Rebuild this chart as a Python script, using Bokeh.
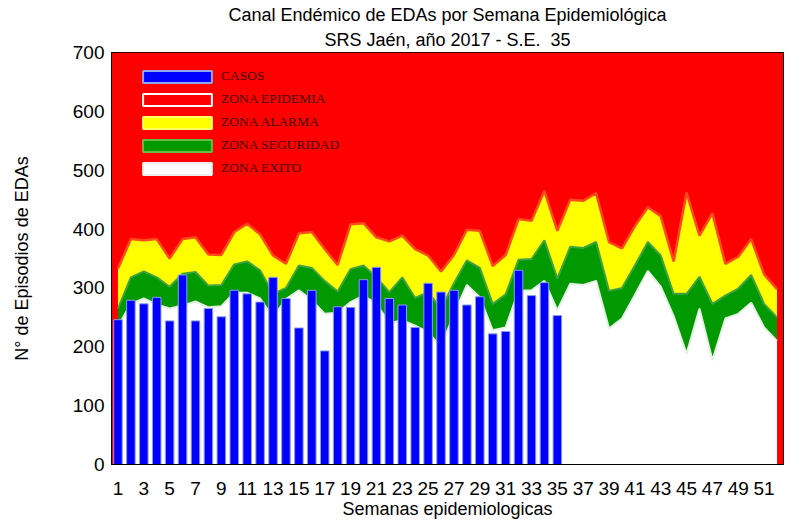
from bokeh.plotting import figure
from bokeh.models import Range1d, FixedTicker, Legend, LegendItem, ColumnDataSource, Title
from bokeh.embed import file_html
from bokeh.resources import INLINE

# ---- data ----
semanas = list(range(1, 53))
semanas_casos = list(range(1, 36))
casos = [246, 279, 273, 284, 244, 322, 244, 265, 251, 296,
         290, 276, 318, 282, 232, 296, 193, 268, 267, 314,
         335, 282, 271, 233, 308, 293, 296, 271, 285, 222,
         226, 330, 287, 309, 253]
zona_exito = [235, 273, 282, 272, 265, 270, 277, 267, 269, 292,
              292, 282, 250, 281, 296, 279, 256, 258, 276, 287,
              273, 240, 245, 236, 225, 199, 256, 305, 284, 228,
              233, 295, 296, 312, 262, 307, 305, 312, 231, 248,
              288, 329, 302, 252, 188, 265, 177, 248, 256, 275,
              233, 210]
zona_seguridad = [265, 318, 328, 318, 302, 324, 327, 304, 305, 340,
                  345, 330, 290, 300, 338, 334, 312, 294, 332, 338,
                  318, 293, 318, 283, 293, 265, 308, 347, 334, 273,
                  289, 348, 349, 381, 316, 370, 368, 378, 295, 300,
                  338, 378, 355, 290, 290, 319, 273, 287, 299, 322,
                  273, 250]
zona_alarma = [333, 383, 381, 383, 350, 383, 386, 357, 356, 395,
               409, 391, 355, 341, 393, 395, 366, 339, 408, 410,
               386, 379, 389, 366, 355, 328, 356, 399, 397, 337,
               356, 417, 414, 465, 397, 450, 448, 461, 378, 367,
               405, 437, 422, 345, 462, 389, 427, 341, 353, 383,
               323, 298]
techo = [700] * 52
ticks_x = list(range(1, 52, 2))
ticks_y = list(range(0, 701, 100))
titulo_1 = "Canal Endémico de EDAs por Semana Epidemiológica"
titulo_2 = "SRS Jaén, año 2017 - S.E.\u00a0\u00a035"

FONT = "Liberation Sans"

p = figure(width=784, height=521, output_backend="svg", toolbar_location=None,
           x_range=Range1d(0.5, 52.5), y_range=Range1d(0, 700),
           min_border_left=111, min_border_right=1, min_border_top=52, min_border_bottom=57)

# title: two centred lines
p.title.text = titulo_1
p.title.align = "center"
p.title.text_font = FONT
p.title.text_font_size = "18px"
p.title.text_font_style = "normal"
p.title.text_color = "#000000"
p.title.standoff = 0
t2 = Title(text=titulo_2, align="center", text_font=FONT, text_font_size="18px",
           text_font_style="normal", text_color="#000000", standoff=6)
p.add_layout(t2, "above")

p.background_fill_color = "#FF0000"
p.border_fill_color = "#FFFFFF"
p.outline_line_color = "#000000"
p.outline_line_width = 1
p.xgrid.grid_line_color = None
p.ygrid.grid_line_color = None

src = ColumnDataSource(dict(x=semanas, exito=zona_exito, seg=zona_seguridad,
                            alarma=zona_alarma, techo=techo))

p.varea(x="x", y1="alarma", y2="techo", source=src, fill_color="#FF0000")
p.varea(x="x", y1="seg", y2="alarma", source=src, fill_color="#FFFF00")
p.varea(x="x", y1="exito", y2="seg", source=src, fill_color="#009900")
p.varea(x="x", y1=0, y2="exito", source=src, fill_color="#FFFFFF")
p.line(x="x", y="alarma", source=src, line_color="#FF4A1A", line_width=2.5)
p.line(x="x", y="seg", source=src, line_color="#3FA33F", line_width=2)
p.line(x="x", y="exito", source=src, line_color="#E4F1E4", line_width=2)

p.vbar(x=semanas_casos, top=casos, width=0.66, fill_color="#0000FF",
       line_color="#8C9EEA", line_width=1)

# legend swatches (NaN placeholders: never drawn in the plot, only in the legend)
nan = float("nan")
def swatch(fill, line):
    s = ColumnDataSource(dict(left=[nan], right=[nan], top=[nan], bottom=[nan]))
    return p.quad(source=s, fill_color=fill, line_color=line, line_width=2)

r_c = swatch("#0000FF", "#8FA6E8")
r_e = swatch("#FF0000", "#FFFFFF")
r_a = swatch("#FFFF00", "#FFFF66")
r_s = swatch("#009900", "#66BB44")
r_x = swatch("#FFFFFF", "#EEEEEE")

legend = Legend(items=[LegendItem(label="CASOS", renderers=[r_c]),
                       LegendItem(label="ZONA EPIDEMIA", renderers=[r_e]),
                       LegendItem(label="ZONA ALARMA", renderers=[r_a]),
                       LegendItem(label="ZONA SEGURIDAD", renderers=[r_s]),
                       LegendItem(label="ZONA EXITO", renderers=[r_x])],
                location=(23, 288), padding=0, margin=0, spacing=7,
                glyph_width=86, glyph_height=15, label_standoff=1,
                label_text_font="Liberation Serif", label_text_font_size="13.5px",
                label_text_color="#400000", border_line_color=None,
                background_fill_alpha=0)
p.add_layout(legend)

p.xaxis.ticker = FixedTicker(ticks=ticks_x)
p.yaxis.ticker = FixedTicker(ticks=ticks_y)
for ax in (p.xaxis[0], p.yaxis[0]):
    ax.major_tick_line_color = None
    ax.minor_tick_line_color = None
    ax.major_tick_out = 0
    ax.major_tick_in = 0
    ax.axis_line_color = "#000000"
    ax.major_label_text_font = FONT
    ax.major_label_text_font_size = "19px"
    ax.major_label_text_color = "#000000"
    ax.axis_label_text_font = FONT
    ax.axis_label_text_font_size = "18px"
    ax.axis_label_text_font_style = "normal"
    ax.axis_label_text_color = "#000000"

p.xaxis.axis_label = "Semanas epidemiologicas"
p.yaxis.axis_label = "N° de Episodios de EDAs"
p.xaxis.major_label_standoff = 17
p.xaxis.axis_label_standoff = 1
p.yaxis.major_label_standoff = 7
p.yaxis.axis_label_standoff = 38

open("out.html", "w").write(file_html(p, INLINE))
